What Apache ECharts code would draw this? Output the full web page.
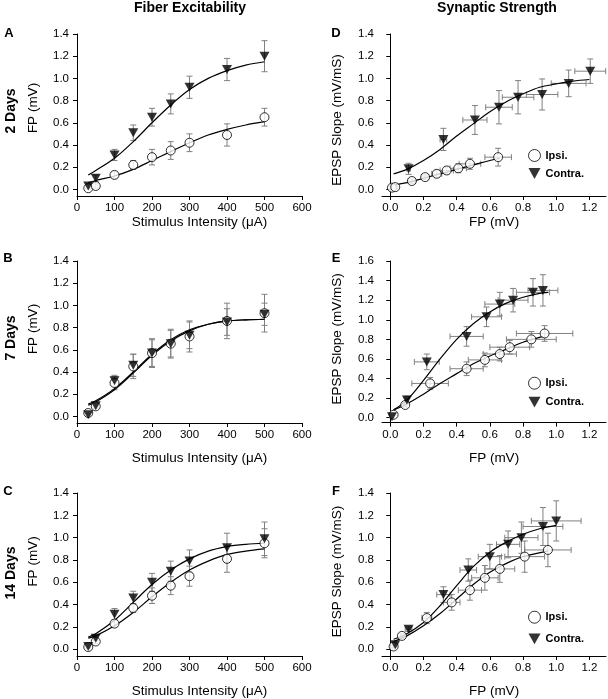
<!DOCTYPE html>
<html><head><meta charset="utf-8">
<script src="https://cdn.jsdelivr.net/npm/echarts@6/dist/echarts.min.js"></script>
<style>html,body{margin:0;padding:0;background:#fff}#c{width:608px;height:699px}</style>
</head><body><div id="c"></div>
<script>
// ---- tick labels ----
const stimTicks = [0, 100, 200, 300, 400, 500, 600];
const fpTicks = [0, 0.2, 0.4, 0.6, 0.8, 1.0, 1.2];
const yTicks14 = [0, 0.2, 0.4, 0.6, 0.8, 1.0, 1.2, 1.4];
const yTicks16 = [0, 0.2, 0.4, 0.6, 0.8, 1.0, 1.2, 1.4, 1.6];

// ---- Fiber excitability (x = stimulus intensity, uA) ----
const stim = [30, 50, 100, 150, 200, 250, 300, 400, 500];
const fitStim = [30, 50, 100, 150, 200, 250, 300, 350, 400, 450, 500];

const a2Ipsi = [0.01, 0.03, 0.13, 0.22, 0.29, 0.35, 0.42, 0.49, 0.65];
const a2IpsiErr = [0.01, 0.02, 0.03, 0.04, 0.07, 0.08, 0.08, 0.10, 0.08];
const a2Contra = [0.03, 0.10, 0.31, 0.51, 0.65, 0.77, 0.92, 1.08, 1.20];
const a2ContraErr = [0.02, 0.03, 0.05, 0.07, 0.08, 0.09, 0.10, 0.10, 0.14];
const a2IpsiFit = [0.06, 0.08, 0.12, 0.18, 0.26, 0.34, 0.42, 0.49, 0.54, 0.58, 0.61];
const a2ContraFit = [0.13, 0.17, 0.28, 0.43, 0.60, 0.76, 0.90, 1.00, 1.07, 1.12, 1.15];

const b7Ipsi = [0.03, 0.09, 0.30, 0.45, 0.57, 0.655, 0.72, 0.86, 0.93];
const b7IpsiErr = [0.01, 0.02, 0.06, 0.11, 0.13, 0.13, 0.14, 0.16, 0.17];
const b7Contra = [0.015, 0.095, 0.32, 0.46, 0.57, 0.655, 0.73, 0.85, 0.92];
const b7ContraErr = [0.01, 0.02, 0.05, 0.10, 0.12, 0.12, 0.12, 0.12, 0.10];
const b7IpsiFit = [0.10, 0.13, 0.24, 0.39, 0.55, 0.68, 0.77, 0.83, 0.86, 0.87, 0.875];
const b7ContraFit = [0.11, 0.14, 0.25, 0.40, 0.56, 0.69, 0.78, 0.83, 0.86, 0.87, 0.875];

const c14Ipsi = [0.02, 0.07, 0.23, 0.37, 0.48, 0.57, 0.655, 0.81, 0.95];
const c14IpsiErr = [0.01, 0.02, 0.03, 0.04, 0.07, 0.08, 0.09, 0.12, 0.13];
const c14Contra = [0.025, 0.10, 0.315, 0.46, 0.60, 0.70, 0.79, 0.91, 0.99];
const c14ContraErr = [0.01, 0.02, 0.05, 0.06, 0.08, 0.09, 0.10, 0.13, 0.15];
const c14IpsiFit = [0.10, 0.12, 0.21, 0.33, 0.47, 0.60, 0.71, 0.79, 0.85, 0.88, 0.90];
const c14ContraFit = [0.11, 0.14, 0.26, 0.42, 0.58, 0.71, 0.81, 0.88, 0.92, 0.94, 0.95];

// ---- Synaptic strength (x = FP, mV) ----
const dIpsiX = [0.01, 0.03, 0.13, 0.21, 0.28, 0.34, 0.41, 0.48, 0.65];
const dIpsiY = [0.015, 0.02, 0.075, 0.11, 0.14, 0.17, 0.19, 0.23, 0.29];
const dIpsiXErr = [0.005, 0.01, 0.02, 0.02, 0.03, 0.04, 0.05, 0.065, 0.08];
const dIpsiYErr = [0.01, 0.01, 0.02, 0.02, 0.03, 0.03, 0.04, 0.05, 0.08];
const dContraX = [0.11, 0.32, 0.51, 0.655, 0.77, 0.915, 1.075, 1.205];
const dContraY = [0.185, 0.45, 0.625, 0.74, 0.83, 0.855, 0.955, 1.065];
const dContraXErr = [0.01, 0.02, 0.073, 0.08, 0.095, 0.095, 0.105, 0.093];
const dContraYErr = [0.05, 0.10, 0.13, 0.15, 0.15, 0.14, 0.12, 0.11];
const dIpsiFitX = [0.02, 0.1, 0.2, 0.3, 0.4, 0.5, 0.6, 0.66];
const dIpsiFit = [0.04, 0.06, 0.10, 0.14, 0.18, 0.22, 0.26, 0.28];
const dContraFitX = [0.02, 0.1, 0.2, 0.3, 0.4, 0.5, 0.6, 0.7, 0.8, 0.9, 1.0, 1.1, 1.2];
const dContraFit = [0.14, 0.18, 0.26, 0.36, 0.48, 0.59, 0.70, 0.79, 0.86, 0.92, 0.95, 0.975, 0.99];

const eIpsiX = [0.02, 0.09, 0.24, 0.46, 0.57, 0.66, 0.72, 0.85, 0.93];
const eIpsiY = [0.03, 0.13, 0.35, 0.50, 0.59, 0.65, 0.72, 0.80, 0.86];
const eIpsiXErr = [0, 0.01, 0.11, 0.10, 0.10, 0.10, 0.12, 0.15, 0.17];
const eIpsiYErr = [0.01, 0.02, 0.06, 0.07, 0.07, 0.07, 0.07, 0.08, 0.08];
const eContraX = [0.01, 0.10, 0.22, 0.46, 0.58, 0.66, 0.74, 0.86, 0.92];
const eContraY = [0.01, 0.18, 0.57, 0.83, 1.03, 1.16, 1.20, 1.28, 1.30];
const eContraXErr = [0, 0.01, 0.075, 0.10, 0.09, 0.09, 0.09, 0.10, 0.09];
const eContraYErr = [0.01, 0.04, 0.08, 0.10, 0.10, 0.12, 0.12, 0.14, 0.16];
const eIpsiFitX = [0.02, 0.1, 0.2, 0.3, 0.4, 0.5, 0.6, 0.7, 0.8, 0.92];
const eIpsiFit = [0.08, 0.14, 0.24, 0.35, 0.45, 0.55, 0.63, 0.70, 0.77, 0.83];
const eContraFitX = [0.02, 0.1, 0.2, 0.3, 0.4, 0.5, 0.6, 0.7, 0.8, 0.9, 0.95];
const eContraFit = [0.08, 0.18, 0.38, 0.60, 0.80, 0.96, 1.08, 1.17, 1.23, 1.27, 1.28];

const fIpsiX = [0.02, 0.07, 0.22, 0.37, 0.48, 0.57, 0.66, 0.81, 0.95];
const fIpsiY = [0.025, 0.12, 0.28, 0.42, 0.53, 0.64, 0.72, 0.83, 0.89];
const fIpsiXErr = [0.005, 0.01, 0.03, 0.05, 0.07, 0.08, 0.09, 0.12, 0.14];
const fIpsiYErr = [0.01, 0.02, 0.05, 0.07, 0.09, 0.11, 0.12, 0.14, 0.15];
const fContraX = [0.03, 0.11, 0.32, 0.47, 0.60, 0.71, 0.79, 0.92, 1.0];
const fContraY = [0.04, 0.18, 0.49, 0.71, 0.83, 0.94, 1.00, 1.10, 1.15];
const fContraXErr = [0.005, 0.02, 0.04, 0.05, 0.07, 0.07, 0.10, 0.12, 0.15];
const fContraYErr = [0.01, 0.02, 0.07, 0.10, 0.11, 0.12, 0.14, 0.17, 0.18];
const fIpsiFitX = [0.02, 0.1, 0.2, 0.3, 0.4, 0.5, 0.6, 0.7, 0.8, 0.95];
const fIpsiFit = [0.07, 0.12, 0.21, 0.32, 0.45, 0.58, 0.69, 0.77, 0.83, 0.88];
const fContraFitX = [0.02, 0.1, 0.2, 0.3, 0.4, 0.5, 0.6, 0.7, 0.8, 0.9, 1.0];
const fContraFit = [0.09, 0.14, 0.24, 0.39, 0.57, 0.74, 0.87, 0.96, 1.03, 1.08, 1.11];

// ---- helpers ----
const FONT = "'Liberation Sans', Arial, Helvetica, sans-serif";
const zip = (xs, ys) => xs.map((x, i) => [x, ys[i]]);
const pts = (xs, ys, xe, ye) => xs.map((x, i) => [x, ys[i], xe ? xe[i] : 0, ye[i]]);

function yAxis(gi, max, ticks, min, name, gap, pad) {
  return {
    gridIndex: gi, type: 'value', min: min, max: max,
    axisLine: { show: true, lineStyle: { color: '#000', width: 1 } },
    axisTick: { show: true, length: 4, customValues: ticks, lineStyle: { color: '#000' } },
    axisLabel: { customValues: ticks, formatter: v => v.toFixed(1), fontSize: 11.5, color: '#000', margin: 8, fontFamily: FONT },
    splitLine: { show: false },
    name: name, nameLocation: 'middle', nameGap: gap,
    nameTextStyle: { fontSize: 13.5, color: '#000', fontFamily: FONT, padding: pad }
  };
}
function xAxis(gi, min, max, ticks, fmt, name, gap, pad) {
  return {
    gridIndex: gi, type: 'value', min: min, max: max,
    axisLine: { show: true, onZero: false, lineStyle: { color: '#000', width: 1 } },
    axisTick: { show: true, length: 4, customValues: ticks, lineStyle: { color: '#000' } },
    axisLabel: { customValues: ticks, formatter: fmt, fontSize: 11.5, color: '#000', margin: 6, fontFamily: FONT },
    splitLine: { show: false },
    name: name, nameLocation: 'middle', nameGap: gap,
    nameTextStyle: { fontSize: 13.5, color: '#000', fontFamily: FONT, padding: pad }
  };
}
function errSeries(gi, data) {
  return {
    type: 'custom', xAxisIndex: gi, yAxisIndex: gi, z: 1, silent: true,
    encode: { x: 0, y: 1 },
    data: data,
    renderItem: function (params, api) {
      const x = api.value(0), y = api.value(1), xe = api.value(2), ye = api.value(3);
      const cap = 3, ch = [];
      const st = { stroke: '#808080', lineWidth: 1 };
      const L = (x1, y1, x2, y2) => ({ type: 'line', shape: { x1, y1, x2, y2 }, style: st });
      if (ye > 0) {
        const t = api.coord([x, y + ye]), b = api.coord([x, y - ye]);
        ch.push(L(t[0], t[1], b[0], b[1]), L(t[0] - cap, t[1], t[0] + cap, t[1]), L(b[0] - cap, b[1], b[0] + cap, b[1]));
      }
      if (xe > 0) {
        const l = api.coord([x - xe, y]), r = api.coord([x + xe, y]);
        ch.push(L(l[0], l[1], r[0], r[1]), L(l[0], l[1] - cap, l[0], l[1] + cap), L(r[0], r[1] - cap, r[0], r[1] + cap));
      }
      return { type: 'group', children: ch };
    }
  };
}
function ipsi(gi, data) {
  return { name: 'Ipsi.', type: 'scatter', xAxisIndex: gi, yAxisIndex: gi, z: 4, symbol: 'circle', symbolSize: 9,
    itemStyle: { color: '#fff', borderColor: '#000', borderWidth: 1 }, data: data };
}
function contra(gi, data) {
  return { name: 'Contra.', type: 'scatter', xAxisIndex: gi, yAxisIndex: gi, z: 5, symbol: 'triangle', symbolRotate: 180, symbolSize: [10, 9],
    itemStyle: { color: '#000' }, data: data };
}
function fit(gi, data) {
  return { type: 'line', xAxisIndex: gi, yAxisIndex: gi, z: 3, smooth: 0.35, showSymbol: false, symbol: 'none', silent: true,
    lineStyle: { color: '#000', width: 1.2 }, data: data };
}

const grids = [
  { left: 77, top: 34, width: 225, height: 162 },
  { left: 77, top: 261, width: 225, height: 162 },
  { left: 77, top: 493, width: 225, height: 163 },
  { left: 382, top: 34, width: 224, height: 162 },
  { left: 382, top: 261, width: 224, height: 161.6 },
  { left: 382, top: 493, width: 224, height: 163 }
];

const stimFmt = v => String(v);
const fpFmt = v => v.toFixed(1);

const legendData = [
  { name: 'Ipsi.', icon: 'circle', itemStyle: { color: '#fff', borderColor: '#000', borderWidth: 1 } },
  { name: 'Contra.', icon: 'path://M0,0L10,0L5,9Z', itemStyle: { color: '#000', borderWidth: 0 } }
];
function legend(top, gap) {
  return { orient: 'vertical', left: 528, top: top, padding: 0, itemWidth: 12, itemHeight: 12, itemGap: gap, selectedMode: false,
    data: legendData, textStyle: { fontWeight: 'bold', fontSize: 11, color: '#000', fontFamily: FONT } };
}

function txt(x, y, text, size, rot) {
  return { type: 'text', x: x, y: y, rotation: rot || 0,
    style: { text: text, align: 'center', verticalAlign: 'middle', font: 'bold ' + size + 'px ' + FONT, fill: '#000' } };
}

const SI = 'Stimulus Intensity (\u03bcA)';
const option = {
  animation: false,
  backgroundColor: '#fff',
  grid: grids,
  xAxis: [
    xAxis(0, 0, 600, stimTicks, stimFmt, SI, 14, [0, 0, 0, 20]),
    xAxis(1, 0, 600, stimTicks, stimFmt, SI, 28, [0, 0, 0, 20]),
    xAxis(2, 0, 600, stimTicks, stimFmt, SI, 28, [0, 0, 0, 20]),
    xAxis(3, -0.05, 1.3, fpTicks, fpFmt, 'FP (mV)', 15, 0),
    xAxis(4, -0.05, 1.3, fpTicks, fpFmt, 'FP (mV)', 29, 0),
    xAxis(5, -0.05, 1.3, fpTicks, fpFmt, 'FP (mV)', 28, 0)
  ],
  yAxis: [
    yAxis(0, 1.4, yTicks14, -0.06, 'FP (mV)', 37, [0, 0, 0, 14]),
    yAxis(1, 1.4, yTicks14, -0.06, 'FP (mV)', 37, [0, 0, 0, 26]),
    yAxis(2, 1.4, yTicks14, -0.06, 'FP (mV)', 37, [0, 0, 0, 26]),
    yAxis(3, 1.4, yTicks14, -0.06, 'EPSP Slope (mV/mS)', 38, [0, 10, 0, 0]),
    yAxis(4, 1.6, yTicks16, -0.05, 'EPSP Slope (mV/mS)', 38, [0, 0, 0, 6]),
    yAxis(5, 1.4, yTicks14, -0.06, 'EPSP Slope (mV/mS)', 38, [0, 0, 0, 6])
  ],
  legend: [legend(149, 6), legend(376.7, 7), legend(610.7, 9.6)],
  graphic: [
    txt(190, 8, 'Fiber Excitability', 14),
    txt(497, 8, 'Synaptic Strength', 14),
    txt(11, 111, '2 Days', 14, Math.PI / 2),
    txt(11, 338, '7 Days', 14, Math.PI / 2),
    txt(11, 573, '14 Days', 14, Math.PI / 2),
    txt(9, 33, 'A', 13), txt(8, 258, 'B', 13), txt(8, 491, 'C', 13),
    txt(336, 33, 'D', 13), txt(336, 258, 'E', 13), txt(336, 491, 'F', 13)
  ],
  series: [
    // A
    errSeries(0, pts(stim, a2Ipsi, null, a2IpsiErr)),
    errSeries(0, pts(stim, a2Contra, null, a2ContraErr)),
    fit(0, zip(fitStim, a2IpsiFit)), fit(0, zip(fitStim, a2ContraFit)),
    ipsi(0, zip(stim, a2Ipsi)), contra(0, zip(stim, a2Contra)),
    // B
    errSeries(1, pts(stim, b7Ipsi, null, b7IpsiErr)),
    errSeries(1, pts(stim, b7Contra, null, b7ContraErr)),
    fit(1, zip(fitStim, b7IpsiFit)), fit(1, zip(fitStim, b7ContraFit)),
    ipsi(1, zip(stim, b7Ipsi)), contra(1, zip(stim, b7Contra)),
    // C
    errSeries(2, pts(stim, c14Ipsi, null, c14IpsiErr)),
    errSeries(2, pts(stim, c14Contra, null, c14ContraErr)),
    fit(2, zip(fitStim, c14IpsiFit)), fit(2, zip(fitStim, c14ContraFit)),
    ipsi(2, zip(stim, c14Ipsi)), contra(2, zip(stim, c14Contra)),
    // D
    errSeries(3, pts(dIpsiX, dIpsiY, dIpsiXErr, dIpsiYErr)),
    errSeries(3, pts(dContraX, dContraY, dContraXErr, dContraYErr)),
    fit(3, zip(dIpsiFitX, dIpsiFit)), fit(3, zip(dContraFitX, dContraFit)),
    ipsi(3, zip(dIpsiX, dIpsiY)), contra(3, zip(dContraX, dContraY)),
    // E
    errSeries(4, pts(eIpsiX, eIpsiY, eIpsiXErr, eIpsiYErr)),
    errSeries(4, pts(eContraX, eContraY, eContraXErr, eContraYErr)),
    fit(4, zip(eIpsiFitX, eIpsiFit)), fit(4, zip(eContraFitX, eContraFit)),
    ipsi(4, zip(eIpsiX, eIpsiY)), contra(4, zip(eContraX, eContraY)),
    // F
    errSeries(5, pts(fIpsiX, fIpsiY, fIpsiXErr, fIpsiYErr)),
    errSeries(5, pts(fContraX, fContraY, fContraXErr, fContraYErr)),
    fit(5, zip(fIpsiFitX, fIpsiFit)), fit(5, zip(fContraFitX, fContraFit)),
    ipsi(5, zip(fIpsiX, fIpsiY)), contra(5, zip(fContraX, fContraY))
  ]
};

const chart = echarts.init(document.getElementById('c'), null, { renderer: 'canvas' });
chart.setOption(option);
</script></body></html>
